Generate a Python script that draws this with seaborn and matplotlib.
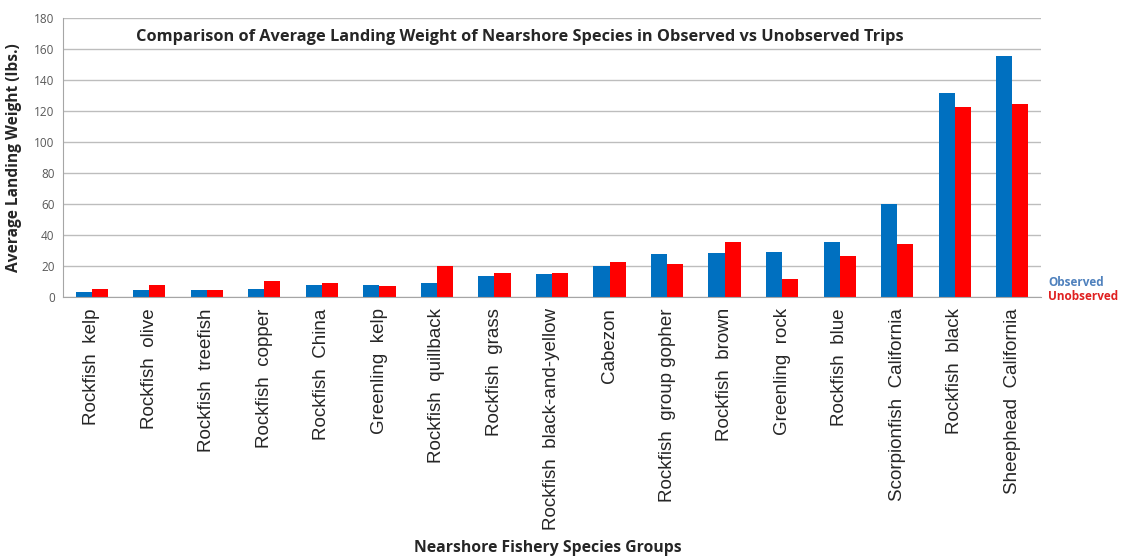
import numpy as np
import pandas as pd
import matplotlib
matplotlib.use('Agg')
import matplotlib.pyplot as plt
import seaborn as sns

# 数据
species = ['Rockfish  kelp', 'Rockfish  olive', 'Rockfish  treefish', 'Rockfish  copper',
           'Rockfish  China', 'Greenling  kelp', 'Rockfish  quillback', 'Rockfish  grass',
           'Rockfish  black-and-yellow', 'Cabezon', 'Rockfish  group gopher', 'Rockfish  brown',
           'Greenling  rock', 'Rockfish  blue', 'Scorpionfish  California', 'Rockfish  black',
           'Sheephead  California']
observed = [3.2, 4.3, 4.5, 5.4, 7.7, 7.7, 8.8, 13.8, 14.8, 20.2, 28.0, 28.6, 29.0, 35.7, 60.2, 131.4, 155.7]
unobserved = [5.4, 7.7, 4.7, 10.1, 8.8, 7.1, 20.0, 15.5, 15.7, 22.8, 21.5, 35.5, 11.4, 26.2, 34.4, 122.4, 124.5]
groups = ['Observed', 'Unobserved']
yticks = [0, 20, 40, 60, 80, 100, 120, 140, 160, 180]

df = pd.DataFrame({'species': species * 2,
                   'weight': observed + unobserved,
                   'group': [groups[0]] * len(species) + [groups[1]] * len(species)})

sns.set_style('white')
plt.rcParams['font.family'] = ['Open Sans', 'DejaVu Sans']

fig = plt.figure(figsize=(11.21, 5.58), dpi=100)
ax = fig.add_axes([0.0562, 0.4677, 0.8724, 0.5])

sns.barplot(data=df, x='species', y='weight', hue='group', order=species,
            palette={'Observed': '#0070C0', 'Unobserved': '#FF0000'},
            width=0.56, saturation=1, legend=False, linewidth=0, ax=ax)

ax.set_ylim(0, 180)
ax.set_xlim(-0.5, len(species) - 0.5)
ax.set_yticks(yticks)
ax.set_yticklabels([str(t) for t in yticks], fontsize=8.5, color='#595959')
ax.yaxis.grid(True, color='#BDBDBD', linewidth=1)
ax.set_axisbelow(True)
for s in ['top', 'right']:
    ax.spines[s].set_visible(False)
for s in ['left', 'bottom']:
    ax.spines[s].set_color('#A6A6A6')

# x 轴刻度线在类别之间
ax.set_xticks(np.arange(len(species)))
ax.set_xticklabels(species, rotation=90, fontsize=13.5, family='Liberation Sans', va='top')
ax.tick_params(axis='x', length=0, pad=8)
ax.set_xticks(np.arange(len(species) + 1) - 0.5, minor=True)
ax.tick_params(axis='x', which='minor', length=5, color='#A6A6A6', direction='out')
ax.tick_params(axis='y', length=4, color='#A6A6A6', pad=2)

ax.set_xlabel('')
ax.set_ylabel('Average Landing Weight (lbs.)', fontsize=11.2, fontweight='bold', labelpad=9)

fig.text(0.464, 0.934, 'Comparison of Average Landing Weight of Nearshore Species in Observed vs Unobserved Trips',
         ha='center', va='center', fontsize=11.8, fontweight='bold')
fig.text(0.489, 0.018, 'Nearshore Fishery Species Groups', ha='center', va='center',
         fontsize=11.3, fontweight='bold')

# 右侧图例文字
fig.text(1048 / 1121, 1 - 283 / 558, 'Observed', ha='left', va='center',
         fontsize=8.5, fontweight='bold', color='#4F81BD')
fig.text(1048 / 1121, 1 - 297 / 558, 'Unobserved', ha='left', va='center',
         fontsize=8.5, fontweight='bold', color='#E02020')

plt.savefig('out.png', dpi=100)
